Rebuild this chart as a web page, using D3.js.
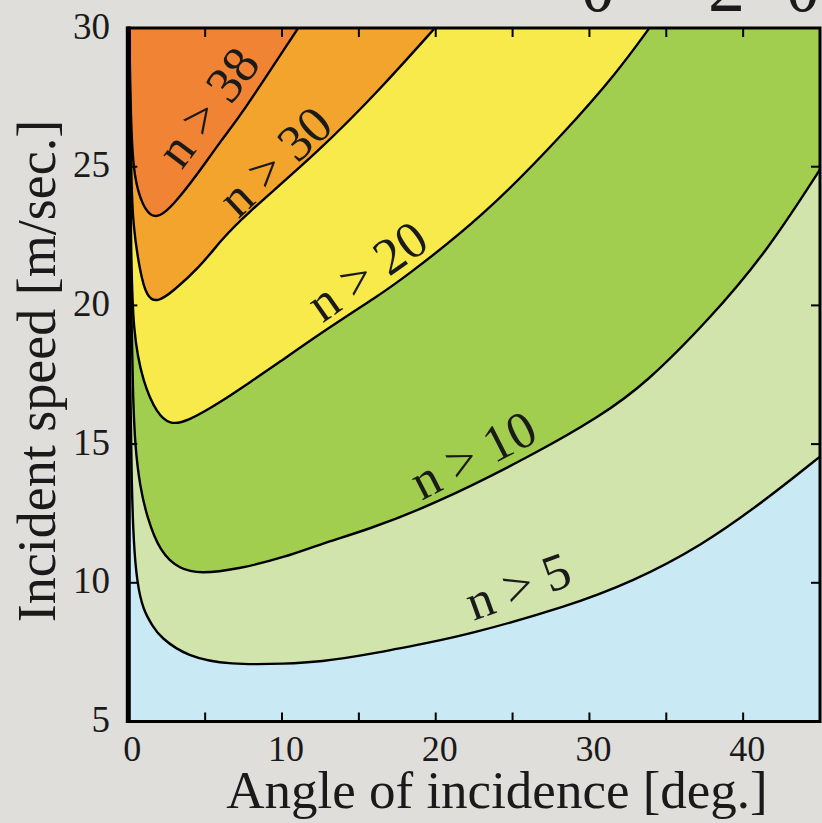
<!DOCTYPE html>
<html>
<head>
<meta charset="utf-8">
<script src="https://cdn.jsdelivr.net/npm/d3@7"></script>
<style>
  html, body { margin: 0; padding: 0; background: #e0dedb; }
  svg { display: block; }
  text { font-family: "Liberation Serif", "Times New Roman", serif; fill: #1a1a1a; }
</style>
</head>
<body>
<svg id="chart" width="822" height="823"></svg>
<script>
// Contour levels of n and the band colours (lowest band first)
const levels = [5, 10, 20, 30, 38];
const bandColors = ["#c9e9f4", "#d0e4ab", "#a2ce50", "#f8ea4b", "#f3a42d", "#f08434"];

// Contour lines as [angle (deg), incident speed (m/s)]
const contourN5 = [[0.02, 30], [0.06, 22], [0.12, 17], [0.22, 13.5], [0.35, 11.4], [0.57, 10.0],
  [0.96, 9.02], [1.61, 8.42], [2.06, 8.05], [3.82, 7.33], [6.6, 7.04], [10.3, 7.08], [12.5, 7.15],
  [15.5, 7.4], [19.8, 7.87], [22.0, 8.12], [28.5, 9.13], [32.8, 10.04], [37.2, 11.3], [41.5, 13.0], [45, 14.55]];
const contourN10 = [[0.03, 30], [0.1, 24], [0.2, 19.5], [0.3, 16.8], [0.44, 14.9], [0.76, 13.47],
  [1.2, 12.4], [2.06, 11.1], [3.36, 10.48], [4.67, 10.33], [7.07, 10.48], [10.3, 10.94], [12.5, 11.4],
  [15.5, 11.9], [19.8, 12.8], [26.3, 14.6], [30.7, 16.0], [33.7, 17.2], [37.8, 19.5], [41.5, 21.9], [45, 24.9]];
const contourN20 = [[0.04, 30], [0.1, 26], [0.18, 22], [0.3, 19.0], [0.96, 17.2], [1.87, 16.1],
  [2.7, 15.7], [3.8, 15.8], [5.97, 16.5], [8.1, 17.3], [9.7, 17.9], [12.5, 19.0], [16.4, 20.4],
  [17.7, 20.9], [23.1, 23.2], [28.5, 26.3], [31.8, 28.4], [33.9, 30]];
const contourN30 = [[0.05, 30], [0.12, 27], [0.2, 24.5], [0.3, 22.9], [0.76, 21.2], [1.2, 20.3],
  [1.87, 20.1], [2.9, 20.5], [4.67, 21.4], [5.97, 22.3], [7.27, 23.1], [12.5, 25.6], [16.4, 27.8], [19.95, 30]];
const contourN38 = [[0.06, 30], [0.15, 27], [0.3, 24.9], [0.76, 23.8], [1.41, 23.2], [2.06, 23.2],
  [2.9, 23.6], [4.47, 24.7], [5.97, 25.9], [7.27, 26.8], [11.05, 30]];
const contours = [contourN5, contourN10, contourN20, contourN30, contourN38];

// Axis ticks and labels
const xTicks = [0, 5, 10, 15, 20, 25, 30, 35, 40, 45];
const xTickLabels = [0, 10, 20, 30, 40];
const yTicks = [5, 10, 15, 20, 25, 30];
const yTickLabels = [5, 10, 15, 20, 25, 30];
const xTitle = "Angle of incidence [deg.]";
const yTitle = "Incident speed [m/sec.]";

// Label placement: [angle, speed, rotation]
const labelLayout = [
  [25.35, 9.88, -20],
  [22.43, 14.61, -27],
  [15.53, 21.24, -35],
  [9.54, 25.2, -43],
  [5.18, 27.15, -53]
];

const svg = d3.select("#chart");
const x = d3.scaleLinear().domain([0, 45]).range([128.3, 820]);
const y = d3.scaleLinear().domain([5, 30]).range([721.5, 28]);

svg.append("defs").append("clipPath").attr("id", "plotClip")
  .append("rect")
  .attr("x", x(0)).attr("y", y(30))
  .attr("width", x(45) - x(0)).attr("height", y(5) - y(30));

// Partial heading above the frame
svg.append("text")
  .attr("y", 11)
  .attr("font-size", 74)
  .selectAll("tspan")
  .data([["θ", 580], ["=", 640], ["2", 708], ["θ", 785]])
  .join("tspan")
  .attr("x", d => d[1])
  .text(d => d[0]);

const plot = svg.append("g").attr("clip-path", "url(#plotClip)");

// Lowest band fills the whole plot
plot.append("rect")
  .attr("x", x(0)).attr("y", y(30))
  .attr("width", x(45) - x(0)).attr("height", y(5) - y(30))
  .attr("fill", bandColors[0]);

const line = d3.line()
  .x(d => x(d[0]))
  .y(d => y(d[1]))
  .curve(d3.curveBasis);

// Each higher band: region above its contour up to the top edge
contours.forEach((pts, i) => {
  const last = pts[pts.length - 1];
  let p = `M${x(0)},${y(30)}` + line(pts).replace(/^M/, "L");
  if (last[1] < 30) p += `L${x(45)},${y(30)}`;
  p += "Z";
  plot.append("path").attr("d", p).attr("fill", bandColors[i + 1]);
});

contours.forEach(pts => {
  plot.append("path")
    .attr("d", line(pts))
    .attr("fill", "none")
    .attr("stroke", "#000")
    .attr("stroke-width", 2.4);
});

// Contour labels
levels.forEach((lv, i) => {
  const [a, s, r] = labelLayout[i];
  svg.append("text")
    .attr("transform", `translate(${x(a)},${y(s)}) rotate(${r})`)
    .attr("text-anchor", "middle")
    .attr("dominant-baseline", "central")
    .attr("font-size", 52)
    .text(`n > ${lv}`);
});

// Frame and inward ticks
const frame = svg.append("g");
const tickLen = 9;
xTicks.forEach(t => {
  frame.append("line").attr("x1", x(t)).attr("x2", x(t))
    .attr("y1", y(5)).attr("y2", y(5) - tickLen).attr("stroke", "#000").attr("stroke-width", 2);
  frame.append("line").attr("x1", x(t)).attr("x2", x(t))
    .attr("y1", y(30)).attr("y2", y(30) + tickLen).attr("stroke", "#000").attr("stroke-width", 2);
});
yTicks.forEach(t => {
  frame.append("line").attr("x1", x(0)).attr("x2", x(0) + tickLen)
    .attr("y1", y(t)).attr("y2", y(t)).attr("stroke", "#000").attr("stroke-width", 2);
  frame.append("line").attr("x1", x(45)).attr("x2", x(45) - tickLen)
    .attr("y1", y(t)).attr("y2", y(t)).attr("stroke", "#000").attr("stroke-width", 2);
});
frame.append("rect")
  .attr("x", x(0)).attr("y", y(30))
  .attr("width", x(45) - x(0)).attr("height", y(5) - y(30))
  .attr("fill", "none").attr("stroke", "#000").attr("stroke-width", 3);
frame.append("line")
  .attr("x1", x(0)).attr("x2", x(0)).attr("y1", y(30) - 1.5).attr("y2", y(5) + 1.5)
  .attr("stroke", "#000").attr("stroke-width", 5);

// Tick labels
svg.append("g").selectAll("text")
  .data(xTickLabels).join("text")
  .attr("x", d => x(d) + 4)
  .attr("y", 749)
  .attr("text-anchor", "middle")
  .attr("dominant-baseline", "central")
  .attr("font-size", 36)
  .text(d => d);

svg.append("g").selectAll("text")
  .data(yTickLabels).join("text")
  .attr("x", 110)
  .attr("y", d => y(d) - 2)
  .attr("text-anchor", "end")
  .attr("dominant-baseline", "central")
  .attr("font-size", 37)
  .text(d => d);

// Axis titles
svg.append("text")
  .attr("x", 497).attr("y", 808)
  .attr("text-anchor", "middle")
  .attr("font-size", 53)
  .text(xTitle);

svg.append("text")
  .attr("transform", `translate(55,371) rotate(-90)`)
  .attr("text-anchor", "middle")
  .attr("font-size", 54)
  .text(yTitle);
</script>
</body>
</html>
